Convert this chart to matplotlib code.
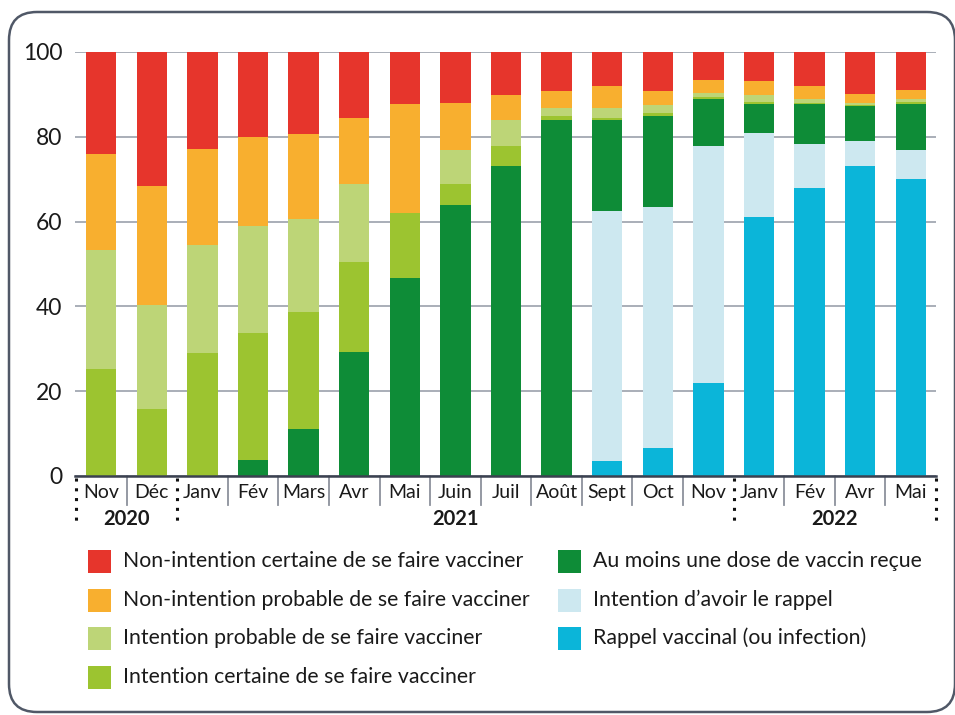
import matplotlib
matplotlib.use('agg')
import matplotlib.pyplot as plt
from matplotlib.patches import Rectangle, FancyBboxPatch
from matplotlib.transforms import IdentityTransform
import numpy as np

plt.rcParams['font.family'] = ['Lato', 'DejaVu Sans']

months = ['Nov', 'Déc', 'Janv', 'Fév', 'Mars', 'Avr', 'Mai', 'Juin', 'Juil', 'Août',
          'Sept', 'Oct', 'Nov', 'Janv', 'Fév', 'Avr', 'Mai']
years = ['2020', '2021', '2022']
year_centers = [0.5, 7, 14.5]
year_bounds = [-0.5, 1.5, 12.5, 16.5]

# segments, bottom to top (%)
rappel = [0, 0, 0, 0, 0, 0, 0, 0, 0, 0, 3.5, 6.7, 22.0, 61.0, 67.9, 73.0, 70.0]
intention_rappel = [0, 0, 0, 0, 0, 0, 0, 0, 0, 0, 59.0, 56.8, 55.9, 20.0, 10.4, 6.0, 6.9]
une_dose = [0, 0, 0, 3.7, 11.0, 29.3, 46.8, 64.0, 73.0, 83.9, 21.4, 21.3, 11.0, 6.8, 9.4, 8.2, 10.9]
intention_certaine = [25.3, 15.9, 29.1, 30.1, 27.6, 21.1, 15.3, 4.9, 4.8, 0.9, 0.6, 0.9, 0.4, 0.3, 0.3, 0.3, 0.3]
intention_probable = [28.1, 24.5, 25.3, 25.2, 22.0, 18.4, 0, 8.1, 6.2, 2.1, 2.3, 1.9, 1.1, 1.7, 0.8, 0.4, 0.8]
non_probable = [22.6, 28.0, 22.8, 21.0, 20.0, 15.6, 25.6, 10.9, 5.9, 4.0, 5.1, 3.3, 3.0, 3.3, 3.1, 2.2, 2.1]
non_certaine = [24.0, 31.6, 22.8, 20.0, 19.4, 15.6, 12.3, 12.1, 10.1, 9.1, 8.1, 9.1, 6.6, 6.9, 8.1, 9.9, 9.0]

series = [
    (rappel, '#0bb5d9', 'Rappel vaccinal (ou infection)'),
    (intention_rappel, '#cde8f0', 'Intention d\u2019avoir le rappel'),
    (une_dose, '#0e8c37', 'Au moins une dose de vaccin reçue'),
    (intention_certaine, '#9cc430', 'Intention certaine de se faire vacciner'),
    (intention_probable, '#bdd577', 'Intention probable de se faire vacciner'),
    (non_probable, '#f8af2f', 'Non-intention probable de se faire vacciner'),
    (non_certaine, '#e6352c', 'Non-intention certaine de se faire vacciner'),
]

W, H = 955, 715
fig = plt.figure(figsize=(W / 100, H / 100), dpi=100)

def fx(px):
    return px / W

def fy(py):
    return 1 - py / H

ax = fig.add_axes([fx(75), fy(476), (936 - 75) / W, (476 - 52) / H])

x = np.arange(len(months))
bottom = np.zeros(len(months))
for vals, col, lab in series:
    ax.bar(x, vals, 0.6, bottom=bottom, color=col, linewidth=0, zorder=2)
    bottom += np.array(vals)

ax.set_xlim(-0.52, 16.5)
ax.set_ylim(0, 100)
ax.set_yticks([0, 20, 40, 60, 80, 100])
ax.yaxis.grid(True, color='#a3a8b2', linewidth=1.3, zorder=0)
ax.set_axisbelow(True)
for s in ['top', 'right', 'left']:
    ax.spines[s].set_visible(False)
ax.spines['bottom'].set_color('#3b4150')
ax.spines['bottom'].set_linewidth(1.8)
ax.spines['bottom'].set_zorder(3)
ax.tick_params(axis='y', length=0, pad=9, labelsize=16.5, labelcolor='#1a1a1a')
ax.set_xticks([])

tr = ax.get_xaxis_transform()
for i, m in enumerate(months):
    ax.text(i, -0.038, m, transform=tr, ha='center', va='center',
            fontsize=14, color='#1a1a1a')
for k in range(len(months) - 1):
    b = k + 0.5
    if b in year_bounds:
        continue
    ax.plot([b, b], [0, -0.068], transform=tr, color='#8c919c', lw=1.3, clip_on=False)
for b in year_bounds:
    ax.plot([b, b], [-0.005, -0.112], transform=tr, color='#111111', lw=2.2,
            linestyle=(0, (1.0, 2.2)), clip_on=False)
for yc, yl in zip(year_centers, years):
    ax.text(yc, -0.102, yl, transform=tr, ha='center', va='center',
            fontsize=14.5, fontweight='bold', color='#1a1a1a')

# legend
legend_rows = [561, 600, 638, 677]
order = [6, 5, 4, 3, 2, 1, 0]
for n, idx in enumerate(order):
    vals, col, lab = series[idx]
    if n < 4:
        sx, cy = 88, legend_rows[n]
    else:
        sx, cy = 558, legend_rows[n - 4]
    fig.add_artist(Rectangle((fx(sx), fy(cy + 11.5)), 23 / W, 23 / H,
                             transform=fig.transFigure, color=col, linewidth=0))
    fig.text(fx(sx + 35), fy(cy), lab, ha='left', va='center',
             fontsize=15.3, color='#1a1a1a')

# rounded frame
frame = FancyBboxPatch((9, 3), 946, 700, boxstyle='round,pad=0,rounding_size=28',
                       transform=IdentityTransform(), facecolor='none',
                       edgecolor='#505867', linewidth=1.8)
fig.add_artist(frame)

plt.savefig('out.png', dpi=100)
